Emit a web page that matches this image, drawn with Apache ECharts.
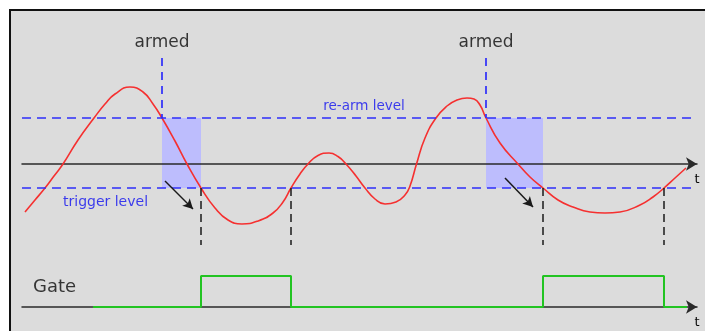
<!DOCTYPE html>
<html><head><meta charset="utf-8">
<script src="https://cdn.jsdelivr.net/npm/echarts@6/dist/echarts.min.js"></script>
<style>
html,body{margin:0;padding:0;background:#fff;}
#frame{position:absolute;left:9px;top:9px;width:700px;height:330px;background:#dcdcdc;border-top:2px solid #111;border-left:2px solid #111;}
#chart{position:absolute;left:0;top:0;width:705px;height:331px;}
</style></head><body><div id="frame"></div><div id="chart"></div>
<script>
// ---- data (time units, signal units) ----
const curveT = [0.3, 1.3, 2.3, 3.2, 4.1, 5.6, 7.2, 8.3, 9.3, 10.8, 12.1, 13.1, 14.0, 15.3, 16.5, 17.9, 19.3, 20.6, 22.0, 23.6, 25.1, 26.1, 26.9, 27.8, 28.6, 29.6, 30.7, 31.6, 32.4, 33.4, 34.3, 35.3, 36.3, 37.4, 38.3, 38.8, 39.45, 40.3, 41.4, 42.5, 43.5, 44.5, 45.2, 45.8, 46.4, 47.8, 49.6, 50.8, 52.1, 53.6, 55.1, 56.8, 58.3, 59.8, 61.8, 63.1, 64.2, 65.3, 66.4];
const curveV = [-4.8, -3.6, -2.4, -1.2, 0, 2.4, 4.6, 6.0, 7.0, 7.7, 7.2, 6.0, 4.6, 2.3, 0, -2.4, -4.4, -5.6, -6.0, -5.7, -4.9, -3.8, -2.4, -1.0, 0, 0.85, 1.1, 0.75, 0, -1.2, -2.4, -3.5, -4.0, -3.8, -3.1, -2.2, 0, 2.6, 4.6, 5.8, 6.4, 6.6, 6.5, 5.9, 4.6, 2.1, 0, -1.3, -2.4, -3.6, -4.3, -4.8, -4.9, -4.8, -4.1, -3.3, -2.4, -1.4, -0.4];
const rearmLevel = 4.6;
const triggerLevel = -2.4;
const levelSpan = [0, 67.3];
const armedT = [14.0, 46.4];
const triggerT = [17.9, 52.1];
const gateFallT = [26.9, 64.2];
const armedTop = 10.6;
const markerBottom = -8.1;
const arrowFrom = [[14.3, -1.7], [48.3, -1.4]];
const arrowTo = [[17.1, -4.5], [51.1, -4.3]];
const gateT = [7.1, 17.9, 26.9, 52.1, 64.2, 66.5];
const gateV = [0, 3.1, 0, 3.1, 0, 0];
const armedText = 'armed';
const armedLabelV = 12.1;
const rearmText = 're-arm level';
const rearmLabelAt = [34.2, 5.75];
const triggerText = 'trigger level';
const triggerLabelAt = [4.1, -3.8];
const gateText = 'Gate';
const gateLabelAt = [1.1, 1.95];
const axisText = 't';

// ---- styles ----
const blue = '#2e2efa';
const textBlue = '#1010f0';
const dark = '#0a0a0a';
const font = 'DejaVu Sans';

const chart = echarts.init(document.getElementById('chart'), null, {renderer: 'canvas'});

function timeAxis(i) {
  return {
    type: 'value', gridIndex: i, min: 0, max: 67.5, z: 2,
    axisLine: {show: true, onZero: true, symbol: ['none', 'arrow'], symbolSize: [10, 11],
      lineStyle: {color: '#2a2a2a', width: 1.5}},
    axisTick: {show: false}, axisLabel: {show: false}, splitLine: {show: false},
    name: axisText, nameLocation: 'end', nameGap: 0,
    nameTextStyle: {color: dark, fontFamily: font, fontSize: 13, align: 'center', verticalAlign: 'top', padding: [9, 0, 0, 0]}
  };
}

const markLines = [];
markLines.push([{coord: [levelSpan[0], rearmLevel], lineStyle: {color: blue, width: 1.7, type: [9, 6]}}, {coord: [levelSpan[1], rearmLevel]}]);
markLines.push([{coord: [levelSpan[0], triggerLevel], lineStyle: {color: blue, width: 1.7, type: [9, 6]}}, {coord: [levelSpan[1], triggerLevel]}]);
armedT.forEach(t => markLines.push([{coord: [t, armedTop], lineStyle: {color: blue, width: 1.7, type: [8, 6]}}, {coord: [t, rearmLevel]}]));
triggerT.concat(gateFallT).forEach(t => markLines.push([{coord: [t, triggerLevel], lineStyle: {color: '#1a1a1a', width: 1.5, type: [8, 5]}}, {coord: [t, markerBottom]}]));
arrowFrom.forEach((p, i) => markLines.push([{coord: p, symbol: 'none', lineStyle: {color: '#1a1a1a', width: 1.5, type: 'solid'}}, {coord: arrowTo[i], symbol: 'arrow', symbolSize: [8, 10]}]));

const option = {
  animation: false,
  backgroundColor: 'transparent',
  grid: [
    {left: 22, right: 8, top: 14, height: 240},
    {left: 22, right: 8, top: 257, height: 60}
  ],
  xAxis: [timeAxis(0), timeAxis(1)],
  yAxis: [
    {type: 'value', gridIndex: 0, min: -9, max: 15, show: false},
    {type: 'value', gridIndex: 1, min: -1, max: 5, show: false}
  ],
  series: [
    {
      type: 'line', xAxisIndex: 0, yAxisIndex: 0, data: [], z: 1, silent: true,
      markArea: {silent: true, itemStyle: {color: '#bdbdfd'},
        data: armedT.map((a, i) => [{coord: [a, rearmLevel]}, {coord: [triggerT[i], triggerLevel]}])}
    },
    {
      type: 'line', xAxisIndex: 0, yAxisIndex: 0, z: 3, silent: true,
      data: curveT.map((t, i) => [t, curveV[i]]),
      smooth: 0.5, showSymbol: false,
      lineStyle: {color: '#f53030', width: 1.6},
      markLine: {silent: true, symbol: ['none', 'none'], label: {show: false}, emphasis: {disabled: true}, data: markLines}
    },
    {
      type: 'line', xAxisIndex: 1, yAxisIndex: 1, z: 3, silent: true,
      data: gateT.map((t, i) => [t, gateV[i]]),
      step: 'end', showSymbol: false,
      lineStyle: {color: '#22c422', width: 2}
    },
    {
      type: 'scatter', xAxisIndex: 0, yAxisIndex: 0, symbolSize: 0, z: 4, silent: true,
      data: [
        {value: [armedT[0], armedLabelV, armedText], label: {color: dark, fontSize: 17}},
        {value: [armedT[1], armedLabelV, armedText], label: {color: dark, fontSize: 17}},
        {value: [rearmLabelAt[0], rearmLabelAt[1], rearmText], label: {color: textBlue, fontSize: 13.5}}
      ],
      label: {show: true, position: 'inside', fontFamily: font, textBorderWidth: 0, formatter: p => p.value[2]}
    },
    {
      type: 'scatter', xAxisIndex: 0, yAxisIndex: 0, symbolSize: 0, z: 4, silent: true,
      data: [{value: [triggerLabelAt[0], triggerLabelAt[1], triggerText]}],
      label: {show: true, position: 'right', distance: 0, color: textBlue, fontSize: 14, fontFamily: font, formatter: p => p.value[2]}
    },
    {
      type: 'scatter', xAxisIndex: 1, yAxisIndex: 1, symbolSize: 0, z: 4, silent: true,
      data: [{value: [gateLabelAt[0], gateLabelAt[1], gateText]}],
      label: {show: true, position: 'right', distance: 0, color: dark, fontSize: 18, fontFamily: font, formatter: p => p.value[2]}
    }
  ]
};
chart.setOption(option);
</script></body></html>
